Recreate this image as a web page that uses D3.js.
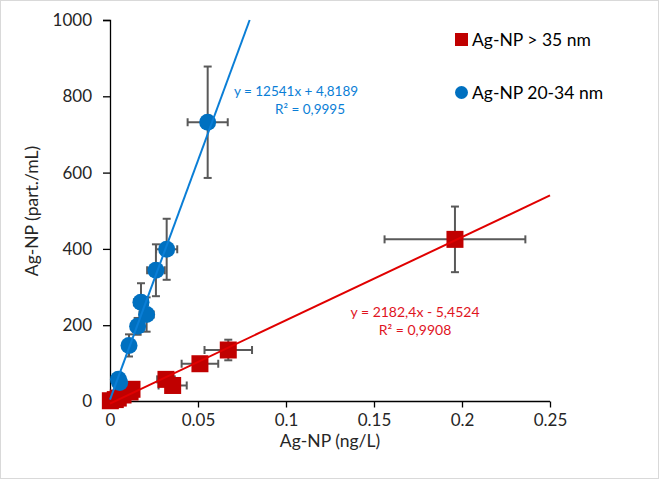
<!DOCTYPE html>
<html><head><meta charset="utf-8">
<script src="https://cdn.jsdelivr.net/npm/d3@7"></script>
<style>
body{margin:0;background:#fff;}
svg text{font-family:Lato,"Open Sans",sans-serif;}
</style></head>
<body><svg id="c" width="659" height="481"></svg>
<script>
// ---- data ----
const seriesNames = ["Ag-NP > 35 nm", "Ag-NP 20-34 nm"];
const redX    = [0.0002, 0.003, 0.0047, 0.0074, 0.0114, 0.0125, 0.0318, 0.0356, 0.0511, 0.0672, 0.196];
const redY    = [2, 5, 9, 17, 25, 32, 58, 42, 99, 135, 425];
const redXErr = [0.0005, 0.001, 0.001, 0.002, 0.002, 0.002, 0.005, 0.008, 0.0104, 0.0135, 0.040];
const redYErr = [1, 2, 3, 4, 5, 6, 10, 8, 15, 27, 86];
const blueX    = [0.0048, 0.0055, 0.0108, 0.0157, 0.0176, 0.0208, 0.0261, 0.0322, 0.0555];
const blueY    = [58, 50, 147, 197, 260, 228, 344, 399, 732];
const blueXErr = [0.001, 0.001, 0.003, 0.003, 0.004, 0.004, 0.005, 0.006, 0.0114];
const blueYErr = [8, 8, 29, 22, 50, 45, 68, 80, 146];
const redTrend  = {slope: 2182.4, intercept: -5.4524, label: "y = 2182,4x - 5,4524", r2: "R² = 0,9908"};
const blueTrend = {slope: 12541, intercept: 4.8189, label: "y = 12541x + 4,8189", r2: "R² = 0,9995"};
const xTicks = [0, 0.05, 0.1, 0.15, 0.2, 0.25];
const xTickLabels = ["0", "0.05", "0.1", "0.15", "0.2", "0.25"];
const yTicks = [0, 200, 400, 600, 800, 1000];
const xTitle = "Ag-NP (ng/L)";
const yTitle = "Ag-NP (part./mL)";

const RED = "#C00000", BLUE = "#0070C0", GREY = "#595959";
const svg = d3.select("#c");
svg.append("rect").attr("x",0.5).attr("y",0.5).attr("width",658).attr("height",478)
  .attr("fill","#fff").attr("stroke","#D9D9D9");

const x = d3.scaleLinear().domain([0,0.25]).range([110,550]);
const y = d3.scaleLinear().domain([0,1000]).range([401.5,20]);

// axes
const xAxis = svg.append("g").attr("transform","translate(0,401.5)")
  .call(d3.axisBottom(x).tickValues(xTicks).tickFormat((d,i)=>xTickLabels[i]).tickSizeOuter(0).tickSize(6).tickPadding(6));
const yAxis = svg.append("g").attr("transform","translate(110,0)")
  .call(d3.axisLeft(y).tickValues(yTicks).tickFormat(d3.format("d")).tickSizeOuter(0).tickSize(7).tickPadding(11));
[xAxis,yAxis].forEach(a=>{
  a.selectAll("path,line").attr("stroke","#000").attr("stroke-width",1.3);
  a.selectAll("text").attr("font-size",17).attr("fill","#262626").attr("font-family","Lato");
});
xAxis.select(".domain").attr("d","M110,0H550");

svg.append("text").attr("x",330).attr("y",447).attr("text-anchor","middle")
  .attr("font-size",17.5).attr("fill","#262626").text(xTitle);
svg.append("text").attr("transform","translate(38,211) rotate(-90)").attr("text-anchor","middle")
  .attr("font-size",17.5).attr("fill","#262626").text(yTitle);

function errorBars(xs, ys, xe, ye){
  const g = svg.append("g").attr("stroke",GREY).attr("stroke-width",2).attr("fill","none");
  xs.forEach((xv,i)=>{
    const cx=x(xv), cy=y(ys[i]);
    const x1=x(xv-xe[i]), x2=x(xv+xe[i]), y1=y(ys[i]-ye[i]), y2=y(ys[i]+ye[i]);
    g.append("line").attr("x1",x1).attr("x2",x2).attr("y1",cy).attr("y2",cy);
    g.append("line").attr("x1",cx).attr("x2",cx).attr("y1",y1).attr("y2",y2);
    g.append("line").attr("x1",x1).attr("x2",x1).attr("y1",cy-4).attr("y2",cy+4);
    g.append("line").attr("x1",x2).attr("x2",x2).attr("y1",cy-4).attr("y2",cy+4);
    g.append("line").attr("x1",cx-4).attr("x2",cx+4).attr("y1",y1).attr("y2",y1);
    g.append("line").attr("x1",cx-4).attr("x2",cx+4).attr("y1",y2).attr("y2",y2);
  });
}
errorBars(redX, redY, redXErr, redYErr);
errorBars(blueX, blueY, blueXErr, blueYErr);

// markers
svg.append("g").selectAll("rect").data(redX).join("rect")
  .attr("x",(d)=>x(d)-8.5).attr("y",(d,i)=>y(redY[i])-8.5).attr("width",17).attr("height",17)
  .attr("fill",RED);
svg.append("g").selectAll("circle").data(blueX).join("circle")
  .attr("cx",d=>x(d)).attr("cy",(d,i)=>y(blueY[i])).attr("r",8.5).attr("fill",BLUE);

// trendlines
const redEnd = 0.25;
svg.append("line").attr("x1",x(0)).attr("y1",y(redTrend.intercept))
  .attr("x2",x(redEnd)).attr("y2",y(redTrend.slope*redEnd+redTrend.intercept))
  .attr("stroke","#E00000").attr("stroke-width",2);
const blueEnd = (1000-blueTrend.intercept)/blueTrend.slope;
svg.append("line").attr("x1",x(0)).attr("y1",y(blueTrend.intercept))
  .attr("x2",x(blueEnd)).attr("y2",y(1000))
  .attr("stroke","#0A7ED6").attr("stroke-width",2);

// equation labels
const eqB = svg.append("text").attr("font-size",13.5).attr("fill","#0A7ED6").attr("text-anchor","middle");
eqB.append("tspan").attr("x",296).attr("y",96).text(blueTrend.label);
eqB.append("tspan").attr("x",310).attr("y",114).text(blueTrend.r2);
const eqR = svg.append("text").attr("font-size",14).attr("fill","#E0141E").attr("text-anchor","middle");
eqR.append("tspan").attr("x",415).attr("y",317).text(redTrend.label);
eqR.append("tspan").attr("x",415).attr("y",335).text(redTrend.r2);

// legend
const lg = svg.append("g");
lg.append("rect").attr("x",455).attr("y",33).attr("width",13).attr("height",13).attr("fill",RED);
lg.append("text").attr("x",472).attr("y",46).attr("font-size",17.5).attr("fill","#000").text(seriesNames[0]);
lg.append("circle").attr("cx",461.5).attr("cy",92.5).attr("r",6.5).attr("fill",BLUE);
lg.append("text").attr("x",472).attr("y",99).attr("font-size",17.5).attr("fill","#000").text(seriesNames[1]);
</script></body></html>
